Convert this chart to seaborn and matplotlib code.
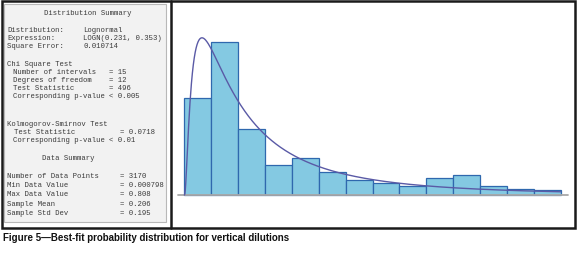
import numpy as np
import pandas as pd
import matplotlib
matplotlib.use("Agg")
import matplotlib.pyplot as plt
import seaborn as sns
from matplotlib import font_manager
from matplotlib.patches import Rectangle
from matplotlib.lines import Line2D

# ---------------- data ----------------
hist_min = 0.0
hist_max = 0.808
rel_freq = [0.186, 0.294, 0.127, 0.058, 0.071, 0.045, 0.028, 0.024,
            0.017, 0.033, 0.039, 0.017, 0.012, 0.010]
logn_mean = 0.231
logn_std = 0.353

# (label, value, label column, value column, y pixel)
summary_lines = [
    ("Distribution:", "Lognormal", 0, 17.5, 30),
    ("Expression:", "LOGN(0.231, 0.353)", 0, 17.5, 38),
    ("Square Error:", "0.010714", 0, 17.5, 46),
    ("Chi Square Test", "", 0, 0, 64),
    ("Number of intervals", "= 15", 1.2, 23.5, 72),
    ("Degrees of freedom", "= 12", 1.2, 23.5, 80),
    ("Test Statistic", "= 496", 1.2, 23.5, 88.5),
    ("Corresponding p-value", "< 0.005", 1.2, 23.5, 97),
    ("Kolmogorov-Smirnov Test", "", 0, 0, 124.5),
    ("Test Statistic", "= 0.0718", 1.6, 26, 132.5),
    ("Corresponding p-value", "< 0.01", 1.2, 23.5, 141),
    ("Number of Data Points", "= 3170", 0, 26, 177),
    ("Min Data Value", "= 0.000798", 0, 26, 186),
    ("Max Data Value", "= 0.808", 0, 26, 195),
    ("Sample Mean", "= 0.206", 0, 26, 204.5),
    ("Sample Std Dev", "= 0.195", 0, 26, 213.5),
]
headings = [("Distribution Summary", 88, 13.5), ("Data Summary", 68, 159)]
caption = "Figure 5\u2014Best-fit probability distribution for vertical dilutions"

# ---------------- figure ----------------
W, H = 579, 255
DPI = 100
sns.set_theme(style="white")
plt.rcParams["font.family"] = ["DejaVu Sans"]
fig = plt.figure(figsize=(W / DPI, H / DPI), dpi=DPI)
fig.patch.set_facecolor("white")

def fx(px):
    return px / W

def fy(py):
    return 1 - py / H

# histogram axes (pixel geometry)
n_bins = len(rel_freq)
w = (hist_max - hist_min) / n_bins
px_left_edge, px_right_edge = 184.3, 560.7
px_per_unit = (px_right_edge - px_left_edge) / (hist_max - hist_min)
ax_l, ax_r = 172.5, 573.0
ax_t, ax_b = 4.0, 227.0
ax = fig.add_axes([fx(ax_l), fy(ax_b), fx(ax_r - ax_l), (ax_b - ax_t) / H])
ax.set_xlim(hist_min + (ax_l - px_left_edge) / px_per_unit,
            hist_min + (ax_r - px_left_edge) / px_per_unit)
base_px = 196.0
K = 519.0
ax.set_ylim(-(ax_b - base_px) / K, (base_px - ax_t) / K)
ax.axis("off")

centers = hist_min + w * (np.arange(n_bins) + 0.5)
df = pd.DataFrame({"x": centers, "f": rel_freq})
sns.histplot(data=df, x="x", weights="f", bins=n_bins, binrange=(hist_min, hist_max),
             ax=ax, stat="count", color="#84c9e2", alpha=1.0,
             edgecolor="#2f68ae", linewidth=0.9)

# baseline
ax.plot([hist_min - 6.3 / px_per_unit, hist_min + (567.7 - px_left_edge) / px_per_unit],
        [0, 0], color="#a8a8a8", lw=1.3, zorder=1)

# fitted lognormal pdf LOGN(mean, std)
sig2 = np.log(1 + (logn_std / logn_mean) ** 2)
mu = np.log(logn_mean) - sig2 / 2
xs = np.linspace(1e-4, hist_max, 800)
pdf = np.exp(-(np.log(xs) - mu) ** 2 / (2 * sig2)) / (xs * np.sqrt(2 * np.pi * sig2))
cdf = pd.DataFrame({"x": xs, "y": pdf * w})
sns.lineplot(data=cdf, x="x", y="y", ax=ax, color="#5a5aa6", lw=1.0)
ax.set_xlabel("")
ax.set_ylabel("")

# ---------------- frame and panel ----------------
def prect(x0, y0, x1, y1, **kw):
    r = Rectangle((fx(x0), fy(y1)), fx(x1 - x0), (y1 - y0) / H,
                  transform=fig.transFigure, **kw)
    fig.patches.append(r)

prect(3.5, 4.5, 166, 222.5, facecolor="#f2f2f2", edgecolor="#b8b8b8", lw=0.8, zorder=0)
prect(1.5, 2.0, 574.5, 228.5, facecolor="none", edgecolor="#1a1a1a", lw=1.8, zorder=5)
fig.lines.append(Line2D([fx(171), fx(171)], [fy(2), fy(228.5)], transform=fig.transFigure,
                        color="#1a1a1a", lw=1.8, zorder=5))

mono = ["Liberation Mono", "DejaVu Sans Mono"]
fs = 5.2
cw = fs * DPI / 72 * 0.6
x0 = 7.5
tcol = "#3a3a3a"
for lab, val, lc, vc, y in summary_lines:
    fig.text(fx(x0 + lc * cw), fy(y), lab, family=mono, size=fs, color=tcol,
             va="center", ha="left")
    if val:
        fig.text(fx(x0 + vc * cw), fy(y), val, family=mono, size=fs, color=tcol,
                 va="center", ha="left")
for t, cx, y in headings:
    fig.text(fx(cx), fy(y), t, family=mono, size=fs, color=tcol, va="center", ha="center")

names = {f.name for f in font_manager.fontManager.ttflist}
narrow = "Liberation Sans Narrow" in names
cap_fam = ["Liberation Sans Narrow", "DejaVu Sans"] if narrow else ["Liberation Sans", "DejaVu Sans"]
cap_size = 8.4 if narrow else 7.05
fig.text(fx(3), fy(238), caption, family=cap_fam, size=cap_size, weight="bold",
         color="#111111", va="center", ha="left")

fig.savefig("out.png", dpi=DPI)
